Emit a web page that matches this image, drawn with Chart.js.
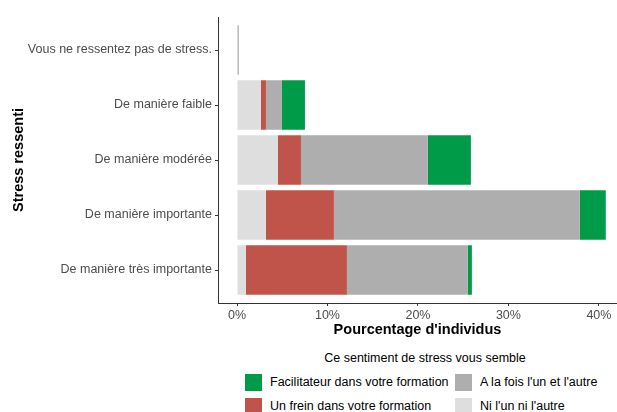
<!DOCTYPE html>
<html lang="fr">
<head>
<meta charset="UTF-8">
<title>Stress ressenti</title>
<style>
    body { margin: 0; background: #fff; font-family: 'Liberation Sans', Arial, sans-serif; }
    #wrap { position: relative; width: 617px; height: 412px; overflow: hidden; }
    #legend-title { position: absolute; left: 222px; width: 406px; top: 351px; text-align: center; font-size: 12.5px; color: #000; }
    .key { position: absolute; width: 17px; height: 17px; }
    .lab { position: absolute; font-size: 12.5px; color: #000; line-height: 17px; white-space: nowrap; }
</style>
</head>
<body>
<div id="wrap">
    <canvas id="chart" width="617" height="340"></canvas>
    <div id="legend-title">Ce sentiment de stress vous semble</div>
</div>

<script src="https://cdn.jsdelivr.net/npm/chart.js"></script>
<script>
    // categories (du haut vers le bas)
    const categories = [
        'Vous ne ressentez pas de stress.',
        'De manière faible',
        'De manière modérée',
        'De manière importante',
        'De manière très importante'
    ];

    // pourcentages
    const niLunNiLautre = [0, 2.65, 4.53, 3.2, 0.99];
    const unFrein = [0, 0.55, 2.54, 7.51, 11.16];
    const aLaFois = [0.2, 1.77, 14.03, 27.18, 13.37];
    const facilitateur = [0, 2.54, 4.75, 2.87, 0.44];

    const xTicks = [0, 10, 20, 30, 40];

    const series = [
        { label: "Ni l'un ni l'autre", values: niLunNiLautre, color: '#dedede' },
        { label: 'Un frein dans votre formation', values: unFrein, color: '#c0544a' },
        { label: "A la fois l'un et l'autre", values: aLaFois, color: '#aeaeae' },
        { label: 'Facilitateur dans votre formation', values: facilitateur, color: '#009b48' }
    ];

    const font = "'Liberation Sans', Arial, sans-serif";

    new Chart(document.getElementById('chart'), {
        type: 'bar',
        data: {
            datasets: series.map(s => ({
                label: s.label,
                data: s.values.map((v, i) => ({ x: v, y: i + 1 })),
                backgroundColor: s.color,
                borderWidth: 0,
                barPercentage: 0.9,
                categoryPercentage: 1
            }))
        },
        options: {
            indexAxis: 'y',
            responsive: false,
            animation: false,
            layout: { padding: { top: 17, right: 0, bottom: 0, left: 0 } },
            plugins: { legend: { display: false }, tooltip: { enabled: false } },
            scales: {
                x: {
                    type: 'linear',
                    stacked: true,
                    min: -2.1,
                    max: 42,
                    afterBuildTicks: axis => { axis.ticks = xTicks.map(v => ({ value: v })); },
                    afterFit: axis => { axis.height = 37; },
                    grid: { drawOnChartArea: false, tickLength: 3, tickColor: '#333' },
                    border: { color: '#333', width: 1 },
                    ticks: {
                        color: '#4d4d4d',
                        font: { family: font, size: 12.5 },
                        padding: 2,
                        callback: v => v + '%'
                    },
                    title: {
                        display: true,
                        text: "Pourcentage d'individus",
                        color: '#000',
                        font: { family: font, size: 14.5, weight: 'bold' },
                        padding: { top: 0, bottom: 1 }
                    }
                },
                y: {
                    type: 'linear',
                    stacked: true,
                    reverse: true,
                    offset: false,
                    min: 0.4,
                    max: 5.6,
                    afterBuildTicks: axis => { axis.ticks = categories.map((c, i) => ({ value: i + 1 })); },
                    afterFit: axis => { axis.width = 218; },
                    grid: { offset: false, drawOnChartArea: false, tickLength: 3, tickColor: '#333' },
                    border: { color: '#333', width: 1 },
                    ticks: {
                        color: '#4d4d4d',
                        font: { family: font, size: 12.5 },
                        padding: 3,
                        callback: v => categories[v - 1]
                    },
                    title: {
                        display: true,
                        text: 'Stress ressenti',
                        color: '#000',
                        font: { family: font, size: 14.5, weight: 'bold' },
                        padding: { top: 10, bottom: 0 }
                    }
                }
            }
        }
    });

    // légende en deux colonnes
    const legendItems = [
        { s: series[3], x: 245, y: 374 },
        { s: series[1], x: 245, y: 398 },
        { s: series[2], x: 455, y: 374 },
        { s: series[0], x: 455, y: 398 }
    ];
    const wrap = document.getElementById('wrap');
    legendItems.forEach(it => {
        const k = document.createElement('div');
        k.className = 'key';
        k.style.left = it.x + 'px';
        k.style.top = it.y + 'px';
        k.style.background = it.s.color;
        wrap.appendChild(k);
        const t = document.createElement('div');
        t.className = 'lab';
        t.style.left = (it.x + 25) + 'px';
        t.style.top = it.y + 'px';
        t.textContent = it.s.label;
        wrap.appendChild(t);
    });
</script>
</body>
</html>
